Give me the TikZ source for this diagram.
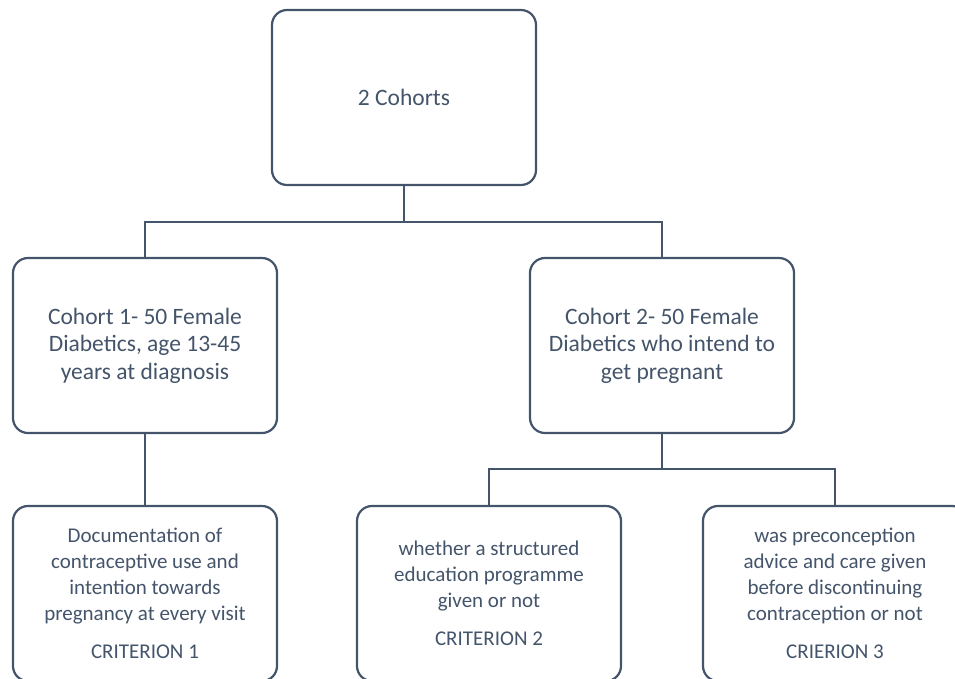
\documentclass[tikz,border=0pt]{standalone}
\usepackage{fontspec}
\setmainfont{Carlito}
\definecolor{slate}{HTML}{44546A}
\begin{document}
\begin{tikzpicture}[x=1pt,y=1pt,
  box/.style={draw=slate, line width=2.2pt, rounded corners=15pt,
    minimum width=264pt, minimum height=175pt, align=center, inner sep=0pt,
    text=slate, font=\fontsize{21}{26}\selectfont},
  bigtext/.style={font=\fontsize{23.5}{27.5}\selectfont},
  conn/.style={draw=slate, line width=2.2pt}]
\useasboundingbox (0,0) rectangle (955,-678);
\clip (0,0) rectangle (955,-678);
\node[box,bigtext] (top) at (404,-97.5) {2 Cohorts};
\node[box,bigtext] (mL) at (145,-345.5) {Cohort 1- 50 Female\\Diabetics, age 13-45\\years at diagnosis};
\node[box,bigtext] (mR) at (662,-345.5) {Cohort 2- 50 Female\\Diabetics who intend to\\get pregnant};
\node[box] (bL) at (145,-593.5) {Documentation of\\contraceptive use and\\intention towards\\pregnancy at every visit\\[12pt]CRITERION 1};
\node[box] (bM) at (489,-593.5) {whether a structured\\education programme\\given or not\\[12pt]CRITERION 2};
\node[box] (bR) at (835,-593.5) {was preconception\\advice and care given\\before discontinuing\\contraception or not\\[12pt]CRIERION 3};
\coordinate (j1) at (404,-222);
\coordinate (j2) at (662,-469);
\draw[conn] (top.south) -- (j1) -| (mL.north);
\draw[conn] (j1) -| (mR.north);
\draw[conn] (mL.south) -- (bL.north);
\draw[conn] (mR.south) -- (j2) -| (bM.north);
\draw[conn] (j2) -| (bR.north);
\end{tikzpicture}
\end{document}
